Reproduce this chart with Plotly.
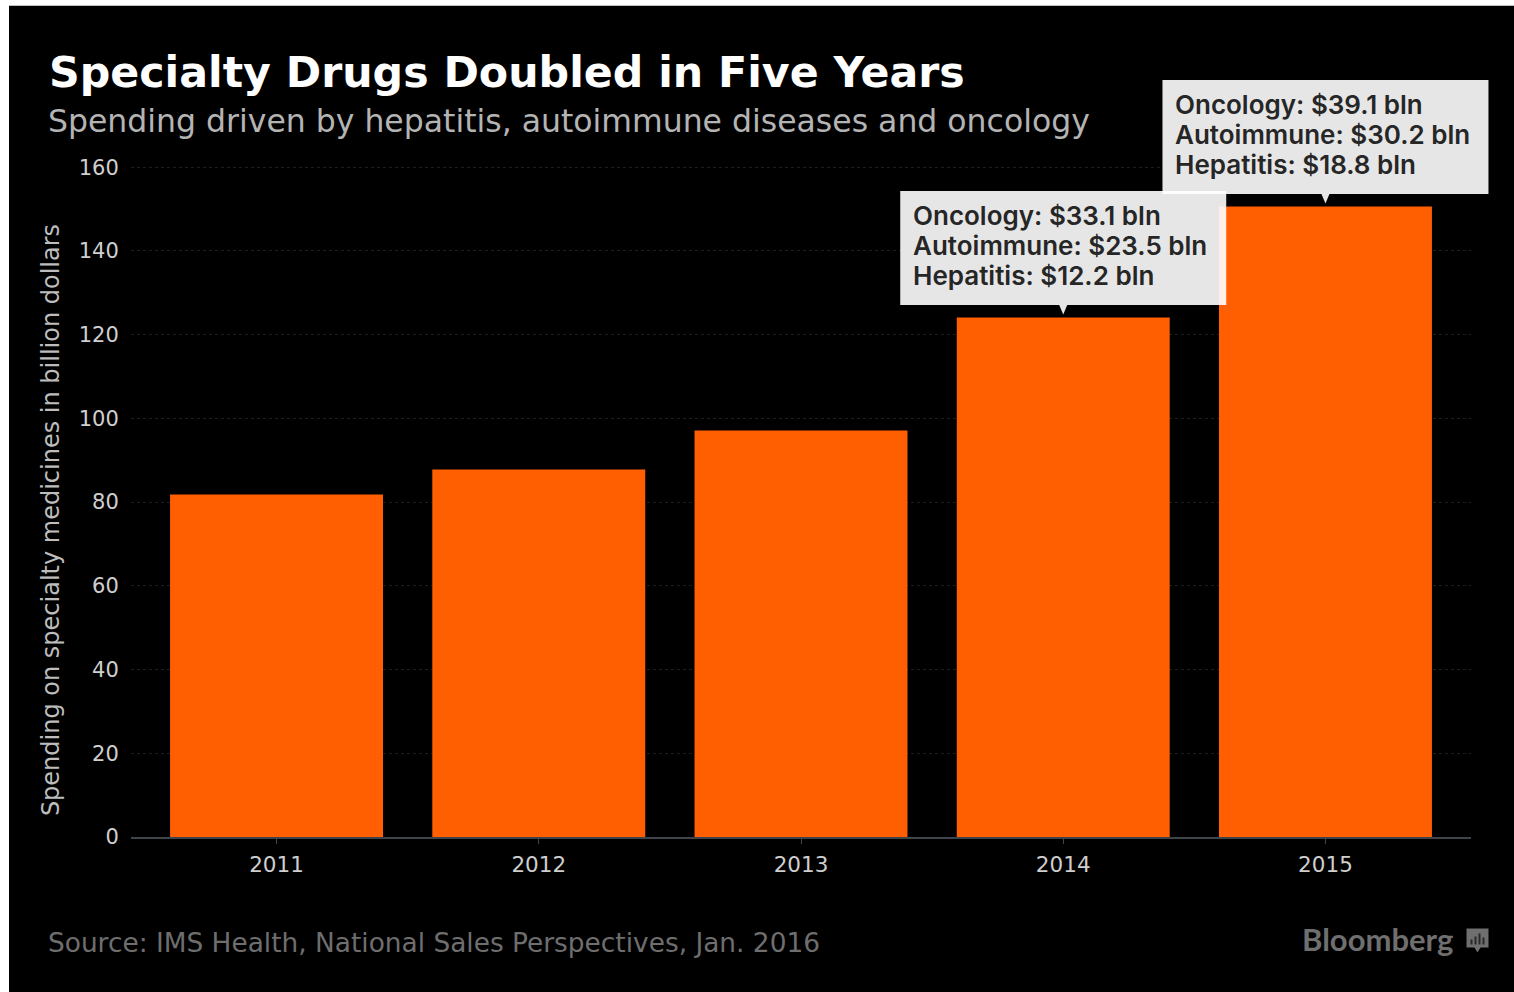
import plotly.graph_objects as go

# Chart data
years = [2011, 2012, 2013, 2014, 2015]
spending = [81.8, 87.8, 97.1, 124.1, 150.6]

callout_years = [2015, 2014]
callout_spending = [150.6, 124.1]
oncology = [39.1, 33.1]
autoimmune = [30.2, 23.5]
hepatitis = [18.8, 12.2]

y_ticks = [0, 20, 40, 60, 80, 100, 120, 140, 160]

title_text = "Specialty Drugs Doubled in Five Years"
subtitle_text = "Spending driven by hepatitis, autoimmune diseases and oncology"
y_title_text = "Spending on specialty medicines in billion dollars"
source_text = "Source: IMS Health, National Sales Perspectives, Jan. 2016"
brand_text = "Bloomberg"

# Canvas and plot area in pixels; the y range runs just past 160 so that gridline is kept
W, H = 1514, 992
L, R, T, B = 131, 1471, 166.24, 837.5
Y_MAX = 160.3
X_RANGE = [2011 - 0.555, 2015 + 0.555]


def px(x):
    return (x - L) / (R - L)


def py(y):
    return (B - y) / (B - T)


ORANGE = "#ff5f00"
SANS = "DejaVu Sans"
LABEL = "Inter"

fig = go.Figure(
    go.Bar(
        x=years,
        y=spending,
        width=0.812,
        marker=dict(color=ORANGE, line=dict(width=0)),
        hoverinfo="x+y",
    )
)

shapes = [
    # Black panel inset from the white page edge
    dict(type="rect", xref="paper", yref="paper", layer="below",
         x0=px(9), x1=px(W + 2), y0=py(6), y1=py(H + 2),
         fillcolor="#000000", line=dict(width=0)),
]

annotations = [
    dict(text=subtitle_text, xref="paper", yref="paper", x=px(46), y=py(121.5),
         xanchor="left", yanchor="middle", showarrow=False,
         font=dict(family=SANS, size=31.5, color="#b4b4b4")),
    dict(text=y_title_text, xref="paper", yref="paper", x=px(51), y=py(520.5),
         xanchor="center", yanchor="middle", textangle=-90, showarrow=False,
         font=dict(family=SANS, size=24, color="#bdbdbd")),
    dict(text=source_text, xref="paper", yref="paper", x=px(46), y=py(943.5),
         xanchor="left", yanchor="middle", showarrow=False,
         font=dict(family=SANS, size=26.4, color="#6e6e6e")),
    dict(text=f"<b>{brand_text}</b>", xref="paper", yref="paper", x=px(1300), y=py(940),
         xanchor="left", yanchor="middle", showarrow=False,
         font=dict(family="Lato", size=31, color="#6f6f6f")),
]

# Callouts: translucent box and pointer anchored to the bar top, one text line per row.
# Anchors use paper fractions because shapes on the data axes clip at the plot area.
# The 2014 box comes last so it lies over the 2015 box.
for yr, val, onc, aut, hep in zip(callout_years, callout_spending, oncology, autoimmune, hepatitis):
    anchor = dict(type="path", xref="paper", yref="paper", xsizemode="pixel", ysizemode="pixel",
                  xanchor=(yr - X_RANGE[0]) / (X_RANGE[1] - X_RANGE[0]), yanchor=val / Y_MAX,
                  layer="above", line=dict(width=0))
    shapes.append(dict(path="M -163 12.5 L 163 12.5 L 163 126.5 L -163 126.5 Z",
                       fillcolor="rgba(255,255,255,0.9)", **anchor))
    shapes.append(dict(path="M -4 12.5 L 4 12.5 L 0 3 Z", fillcolor="#e6e6e6", **anchor))
    rows = (
        (f"Oncology: ${onc} bln", 102),
        (f"Autoimmune: ${aut} bln", 72),
        (f"Hepatitis: ${hep} bln", 42),
    )
    for line, lift in rows:
        annotations.append(dict(
            text=line, xref="x", yref="y", x=yr, y=val,
            xanchor="left", yanchor="middle", xshift=-152, yshift=lift,
            showarrow=False,
            font=dict(family=LABEL, size=26, weight=600, color="#262626"),
        ))

# Brand icon: a speech-bubble tile with small bars cut into it
icon = dict(type="path", xref="paper", yref="paper", xsizemode="pixel", ysizemode="pixel",
            xanchor=px(1477.5), yanchor=py(940), layer="above", line=dict(width=0))
shapes.append(dict(fillcolor="#6f6f6f",
                   path="M -11 11 L 11 11 L 11 -8 L 3 -8 L 0 -13 L -3 -8 L -11 -8 Z", **icon))
for bx, top in ((-6, 0), (-2, 3), (2, 6), (6, 2)):
    shapes.append(dict(fillcolor="#2a2a2a",
                       path=f"M {bx - 1} -5 L {bx + 1} -5 L {bx + 1} {top} L {bx - 1} {top} Z", **icon))

fig.update_layout(
    width=W,
    height=H,
    autosize=False,
    margin=dict(l=L, r=W - R, t=T, b=H - B, pad=0),
    paper_bgcolor="#ffffff",
    plot_bgcolor="rgba(0,0,0,0)",
    showlegend=False,
    title=dict(
        text=f"<b>{title_text}</b>",
        x=49 / W, xref="container", xanchor="left",
        y=1 - 72 / H, yref="container", yanchor="middle",
        font=dict(family=SANS, size=42.7, color="#ffffff"),
    ),
    xaxis=dict(
        range=X_RANGE,
        tickmode="array", tickvals=years, ticktext=[str(y) for y in years],
        showgrid=False, zeroline=False,
        showline=True, linecolor="#3d454a", linewidth=2,
        ticks="outside", ticklen=5, tickwidth=1, tickcolor="#3d454a",
        ticklabelstandoff=2,
        tickfont=dict(family=SANS, size=21.5, color="#cfcfcf"),
        fixedrange=True,
    ),
    yaxis=dict(
        range=[0, Y_MAX],
        tickmode="array", tickvals=y_ticks,
        showgrid=True, gridcolor="#1f1f1f", griddash="dot", gridwidth=1,
        zeroline=False, showline=False,
        ticks="outside", ticklen=7, tickcolor="rgba(0,0,0,0)",
        tickfont=dict(family=SANS, size=21, color="#cfcfcf"),
        fixedrange=True,
    ),
    shapes=shapes,
    annotations=annotations,
)

fig.write_html("out.html", config=dict(displayModeBar=False))
